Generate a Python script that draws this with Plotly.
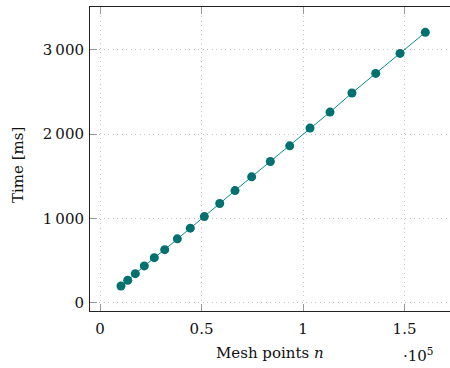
import plotly.graph_objects as go

mesh_points = [10340, 13650, 17390, 21820, 26750, 31870, 38080, 44480, 51380, 58970,
               66500, 74700, 83900, 93450, 103450, 113300, 124100, 135800, 147800, 160250]
time_ms = [198, 266, 344, 436, 534, 629, 757, 884, 1021, 1176,
           1330, 1493, 1675, 1861, 2071, 2261, 2487, 2720, 2957, 3207]

x_tickvals = [0, 50000, 100000, 150000]
x_ticktext = ["0", "0.5", "1", "1.5"]
y_tickvals = [0, 1000, 2000, 3000]
y_ticktext = ["0", "1\u2009000", "2\u2009000", "3\u2009000"]

FONT = "DejaVu Serif"

fig = go.Figure()
fig.add_trace(go.Scatter(
    x=mesh_points, y=time_ms, mode="lines+markers",
    line=dict(color="#0d8c88", width=1),
    marker=dict(color="#00716e", size=9),
    showlegend=False,
))

axis_common = dict(
    showline=True, linecolor="#222222", linewidth=1,
    ticks="inside", ticklen=7, tickcolor="#9a9a9a", tickwidth=1,
    showgrid=True, gridcolor="#c4c4c4", griddash="1px,3.5px", gridwidth=1,
    zeroline=False,
    tickfont=dict(family=FONT, size=15, color="#111111"),
)

fig.update_xaxes(range=[-4930, 172400], tickvals=x_tickvals, ticktext=x_ticktext,
                 mirror="ticks", ticklabelstandoff=4, **axis_common)
fig.update_yaxes(range=[-99, 3508], tickvals=y_tickvals, ticktext=y_ticktext,
                 mirror=False, ticklabelstandoff=2, **axis_common)

label_font = dict(family=FONT, size=15, color="#111111")
fig.add_annotation(text="Mesh points <i>n</i>", xref="paper", yref="paper",
                   x=(270 - 90) / 360, y=(368 - 353 - 57) / 304, xanchor="center", yanchor="middle",
                   showarrow=False, font=label_font)
fig.add_annotation(text="·10<sup>5</sup>", xref="paper", yref="paper",
                   x=(418 - 90) / 360, y=(368 - 355 - 57) / 304, xanchor="center", yanchor="middle",
                   showarrow=False, font=label_font)
fig.add_annotation(text="Time [ms]", xref="paper", yref="paper", textangle=-90,
                   x=(18 - 90) / 360, y=(311 - 165) / 304, xanchor="center", yanchor="middle",
                   showarrow=False, font=label_font)

fig.update_layout(
    width=450, height=368,
    margin=dict(l=90, r=0, t=7, b=57),
    paper_bgcolor="white", plot_bgcolor="white",
)

fig.write_html("out.html")
